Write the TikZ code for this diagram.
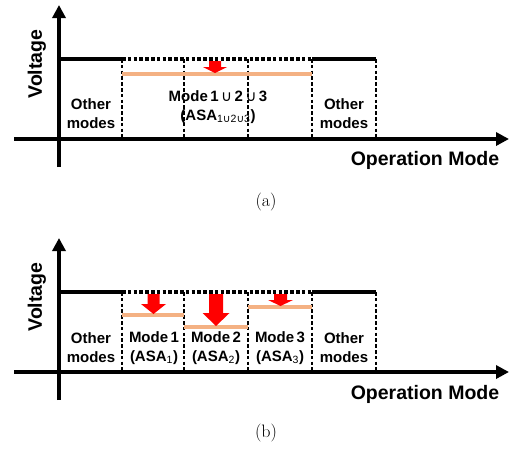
\documentclass[tikz,border=0pt]{standalone}
\usepackage{fontspec}
\usetikzlibrary{arrows.meta}
\newfontfamily\arialb{Liberation Sans}[BoldFont={Liberation Sans Bold}]
\newfontfamily\dejavu{DejaVu Sans}
\newcommand{\uni}{{\dejavu\mdseries ∪}}
\definecolor{lvl}{RGB}{244,177,131}
\definecolor{redarr}{RGB}{255,0,0}
\tikzset{
  axisline/.style={line width=3.8pt,-{Triangle[length=13pt,width=13pt]}},
  solidlvl/.style={line width=3.2pt},
  dashlvl/.style={line width=3.2pt,dash pattern=on 3.5pt off 2.3pt},
  sepline/.style={line width=1.6pt,dash pattern=on 3.5pt off 2.3pt},
  asaline/.style={line width=3.4pt,lvl},
  redblk/.style={fill=redarr,draw=none},
  lbl/.style={font=\arialb\bfseries\fontsize{15}{19}\selectfont,align=center,inner sep=0pt},
  axlbl/.style={font=\arialb\bfseries\fontsize{19.5}{22}\selectfont,inner sep=0pt},
  captxt/.style={font=\fontsize{18}{20}\selectfont,inner sep=0pt}
}
\newcommand{\redarrow}[6]{% cx, shaft half, head half, y0, y1, tip
  \fill[redblk] (#1-#2,#4) -- (#1+#2,#4) -- (#1+#2,#5) -- (#1+#3,#5) -- (#1,#6) -- (#1-#3,#5) -- (#1-#2,#5) -- cycle;}
\begin{document}
\begin{tikzpicture}[x=1pt,y=-1pt]
\useasboundingbox (0,0) rectangle (510,448);
% ---------- panel (a) ----------
\coordinate (aYb) at (59,167);
\coordinate (aYt) at (59,5);
\coordinate (aXl) at (14,139);
\coordinate (aXr) at (509,139);
\draw[axisline] (aYb) -- (aYt);
\draw[axisline] (aXl) -- (aXr);
\coordinate (aL0) at (59,59);
\coordinate (aL1) at (122,59);
\coordinate (aL4) at (312,59);
\coordinate (aL5) at (376,59);
\draw[solidlvl] (aL0) -- (aL1);
\draw[dashlvl] (aL1) -- (aL4);
\draw[solidlvl] (aL4) -- (aL5);
\foreach \x in {122,184,248,312,376}{\draw[sepline] (\x,59) -- (\x,139);}
\coordinate (aA0) at (122,74);
\coordinate (aA1) at (312,74);
\draw[asaline] (aA0) -- (aA1);
\redarrow{215}{6}{12}{61}{67}{73}
\node[axlbl,rotate=90] (aV) at (37,64) {Voltage};
\node[axlbl] (aOM) at (425,160) {Operation Mode};
\node[lbl] (aOth1) at (91,114) {Other\\modes};
\node[lbl] (aOth2) at (344,114) {Other\\modes};
\node[lbl] (aM) at (218,107) {Mode\,1\,\uni\,2\,\uni\,3\\(ASA\textsubscript{\mdseries 1\uni2\uni3})};
\node[captxt] (capa) at (266,202) {(a)};
% ---------- panel (b) ----------
\coordinate (bYb) at (59,400);
\coordinate (bYt) at (59,238);
\coordinate (bXl) at (14,372);
\coordinate (bXr) at (509,372);
\draw[axisline] (bYb) -- (bYt);
\draw[axisline] (bXl) -- (bXr);
\coordinate (bL0) at (59,292);
\coordinate (bL1) at (122,292);
\coordinate (bL4) at (312,292);
\coordinate (bL5) at (376,292);
\draw[solidlvl] (bL0) -- (bL1);
\draw[dashlvl] (bL1) -- (bL4);
\draw[solidlvl] (bL4) -- (bL5);
\foreach \x in {122,184,248,312,376}{\draw[sepline] (\x,292) -- (\x,372);}
\draw[asaline] (122,315) -- (184,315);
\draw[asaline] (184,327) -- (248,327);
\draw[asaline] (248,307) -- (312,307);
\redarrow{153.5}{6}{12.5}{294}{304}{314}
\redarrow{216}{7}{13.5}{294}{313}{326}
\redarrow{280.5}{6.5}{12.5}{294}{300}{306}
\node[axlbl,rotate=90] (bV) at (37,297) {Voltage};
\node[axlbl] (bOM) at (425,394) {Operation Mode};
\node[lbl] (bOth1) at (91,348) {Other\\modes};
\node[lbl] (bOth2) at (344,348) {Other\\modes};
\node[lbl] (bM1) at (154,348) {Mode\,1\\(ASA\textsubscript{\mdseries 1})};
\node[lbl] (bM2) at (216,348) {Mode\,2\\(ASA\textsubscript{\mdseries 2})};
\node[lbl] (bM3) at (280,348) {Mode\,3\\(ASA\textsubscript{\mdseries 3})};
\node[captxt] (capb) at (266,433) {(b)};
\end{tikzpicture}
\end{document}
